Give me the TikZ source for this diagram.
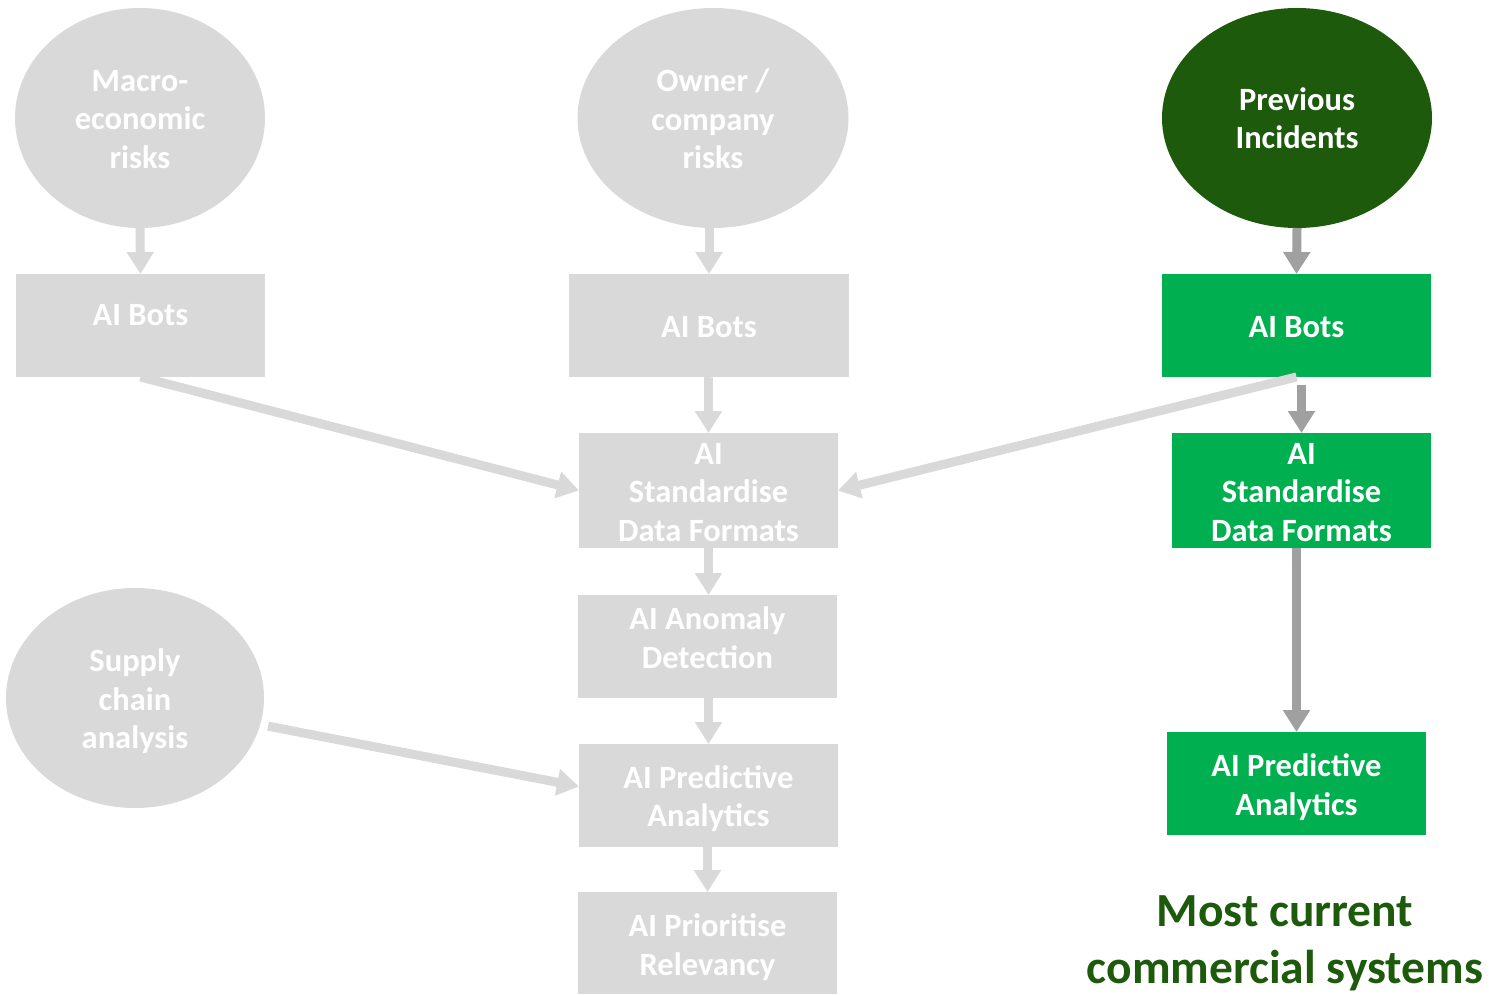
\documentclass[tikz,border=0pt]{standalone}
\usepackage{fontspec}
\setmainfont{Carlito}
\usetikzlibrary{shapes.geometric,arrows.meta}
\definecolor{boxgray}{HTML}{D9D9D9}
\definecolor{arrowgray}{HTML}{A0A0A0}
\definecolor{livegreen}{HTML}{00B050}
\definecolor{deepgreen}{HTML}{1D5A0C}
\tikzset{
  base/.style={inner sep=0pt, outer sep=0pt},
  lbl/.style={inner sep=0pt, align=center, text=white,
    font=\fontsize{32.5}{38.5}\selectfont\bfseries},
  oldblob/.style={base, ellipse, fill=boxgray},
  newblob/.style={base, ellipse, fill=deepgreen},
  oldbox/.style={base, rectangle, fill=boxgray},
  newbox/.style={base, rectangle, fill=livegreen},
  oldflow/.style={draw=boxgray, line width=9pt,
    -{Triangle[width=26pt,length=22pt]}},
  newflow/.style={draw=arrowgray, line width=9pt,
    -{Triangle[width=26pt,length=22pt]}},
}
\begin{document}
\begin{tikzpicture}[x=1pt,y=-1pt]
\useasboundingbox (0,0) rectangle (1489,995);

% risk sources
\node[oldblob, minimum width=250pt, minimum height=220pt,
  label={[lbl,yshift=-1.5pt]center:{Macro-\\economic\\risks}}] (macro) at (140,118) {};
\node[oldblob, minimum width=271pt, minimum height=220pt,
  label={[lbl,yshift=-1pt]center:{Owner /\\company\\risks}}] (owner) at (713,118) {};
\node[newblob, minimum width=270pt, minimum height=220pt,
  label={[lbl]center:{Previous\\Incidents}}] (prev) at (1297,118) {};
\node[oldblob, minimum width=258pt, minimum height=220pt,
  label={[lbl,yshift=-3.5pt]center:{Supply\\chain\\analysis}}] (supply) at (135,698) {};

% bots
\node[oldbox, minimum width=249pt, minimum height=103pt,
  label={[lbl,yshift=10pt]center:{AI Bots}}] (botsA) at (140.5,325.5) {};
\node[oldbox, minimum width=280pt, minimum height=103pt,
  label={[lbl,yshift=-2pt]center:{AI Bots}}] (botsB) at (709,325.5) {};
\node[newbox, minimum width=269pt, minimum height=103pt,
  label={[lbl,yshift=-2pt]center:{AI Bots}}] (botsC) at (1296.5,325.5) {};

% central pipeline
\node[oldbox, minimum width=259pt, minimum height=115pt,
  label={[lbl,yshift=-2pt]center:{AI\\Standardise\\Data Formats}}] (stdB) at (708.5,490.5) {};
\node[oldbox, minimum width=259pt, minimum height=103pt,
  label={[lbl,yshift=9pt]center:{AI Anomaly\\Detection}}] (anom) at (707.5,646.5) {};
\node[oldbox, minimum width=259pt, minimum height=103pt,
  label={[lbl,yshift=-3pt]center:{AI Predictive\\Analytics}}] (predB) at (708.5,795.5) {};
\node[oldbox, minimum width=259pt, minimum height=102pt,
  label={[lbl,yshift=-4pt]center:{AI Prioritise\\Relevancy}}] (prio) at (707.5,943) {};

% commercial pipeline
\node[newbox, minimum width=259pt, minimum height=115pt,
  label={[lbl,yshift=-2pt]center:{AI\\Standardise\\Data Formats}}] (stdC) at (1301.5,490.5) {};
\node[newbox, minimum width=259pt, minimum height=103pt,
  label={[lbl,yshift=-3.5pt]center:{AI Predictive\\Analytics}}] (predC) at (1296.5,783.5) {};

\node[inner sep=0pt, align=center, text=deepgreen,
  font=\fontsize{47.5}{57}\selectfont\bfseries] (caption) at (1285,943)
  {Most current\\commercial systems};

% connectors
\draw[oldflow] (macro.south) -- (botsA.north);
\draw[oldflow] (owner.south -| botsB.north) -- (botsB.north);
\draw[newflow] (prev.south) -- (botsC.north);
\draw[oldflow] (botsA.south) -- (stdB.west);
\draw[oldflow] (botsC.south) -- (stdB.east);
\draw[oldflow] (botsB.south) -- (stdB.north |- botsB.south) -- (stdB.north);
\draw[oldflow] (stdB.south) -- (stdB.south |- anom.north);
\draw[oldflow] (anom.south -| stdB.south) -- (stdB.south |- predB.north);
\draw[oldflow] (predB.south -| prio.north) -- (prio.north);
\draw[oldflow, shorten <=8pt] (supply.-12) -- ([yshift=9pt]predB.west);
\draw[newflow] (botsC.south -| stdC.north) ++(0,8) -- (stdC.north);
\draw[newflow] (stdC.south -| predC.north) -- (predC.north);
\end{tikzpicture}
\end{document}
